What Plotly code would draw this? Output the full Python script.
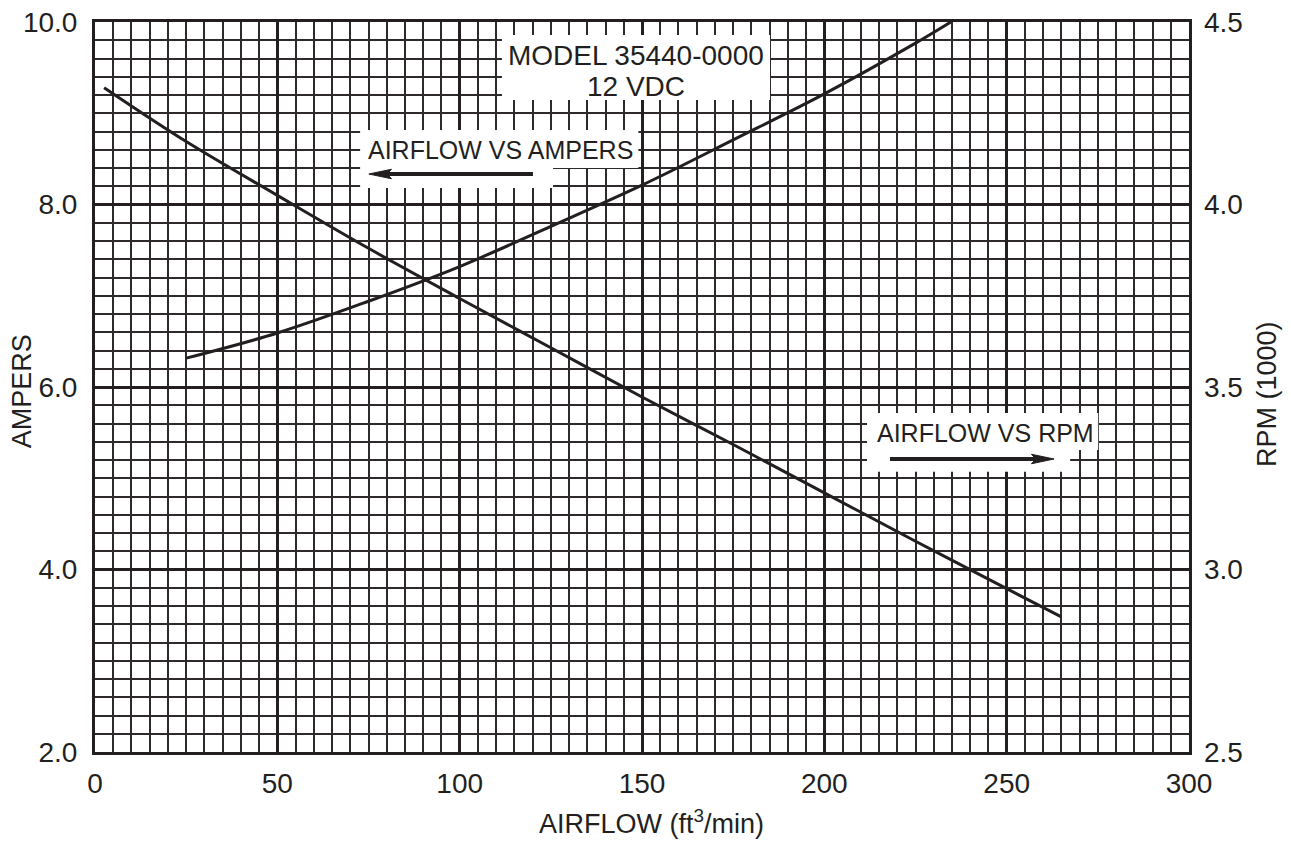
import plotly.graph_objects as go

# ---- data ----
amps_airflow = [2.5, 25, 50, 75, 100, 125, 150, 175, 200, 225, 250, 265]
amps_values = [9.28, 8.69, 8.10, 7.52, 6.97, 6.43, 5.89, 5.37, 4.84, 4.31, 3.79, 3.48]

rpm_airflow = [25, 50, 75, 100, 125, 150, 175, 200, 225, 234.7]
rpm_values = [3.579, 3.648, 3.735, 3.830, 3.940, 4.053, 4.177, 4.303, 4.442, 4.5]

x_ticks = [0, 50, 100, 150, 200, 250, 300]
y_ticks = [2.0, 4.0, 6.0, 8.0, 10.0]
y2_ticks = [2.5, 3.0, 3.5, 4.0, 4.5]

FONT = "Liberation Sans, Arial, Helvetica, sans-serif"
INK = "#231f20"

fig = go.Figure()
fig.add_trace(go.Scatter(x=amps_airflow, y=amps_values, mode="lines",
                         line=dict(color=INK, width=3, shape="spline"),
                         showlegend=False, hoverinfo="skip"))
fig.add_trace(go.Scatter(x=rpm_airflow, y=rpm_values, mode="lines", yaxis="y2",
                         line=dict(color=INK, width=3, shape="spline"),
                         showlegend=False, hoverinfo="skip"))

# white label backgrounds (cover the grid)
boxes = [
    (111.6, 185.1, 9.145, 9.858),
    (72.7, 149.0, 8.40, 8.816),
    (72.7, 125.6, 8.18, 8.40),
    (211.7, 275.1, 5.31, 5.715),
    (211.7, 267.4, 5.07, 5.31),
]
shapes = []
for x0, x1, y0, y1 in boxes:
    shapes.append(dict(type="rect", xref="x", yref="y", x0=x0, x1=x1, y0=y0, y1=y1,
                       fillcolor="white", line=dict(width=0), layer="between"))

# direction arrows: (tail_x, tip_x, y) in data units
arrows = [(120.1, 75.1, 8.334), (218.0, 263.0, 5.211)]
HEAD_L = 6.2    # airflow units (~22 px)
HEAD_W = 0.052  # amps units (~4.7 px)
NOTCH = 1.2
for tail, tip, yy in arrows:
    d = 1 if tip > tail else -1
    base = tip - d * HEAD_L
    shapes.append(dict(type="line", xref="x", yref="y", x0=tail, x1=base + d * NOTCH, y0=yy, y1=yy,
                       line=dict(color=INK, width=4), layer="above"))
    path = (f"M {tip},{yy} L {base},{yy + HEAD_W} L {base + d * NOTCH},{yy} "
            f"L {base},{yy - HEAD_W} Z")
    shapes.append(dict(type="path", xref="x", yref="y", path=path,
                       fillcolor=INK, line=dict(color=INK, width=1), layer="above"))

txt = lambda s: dict(family=FONT, size=s, color=INK)
annotations = [
    dict(x=148.35, y=9.638, xref="x", yref="y", text="MODEL 35440-0000", showarrow=False,
         font=txt(28), xanchor="center", yanchor="middle"),
    dict(x=148.35, y=9.288, xref="x", yref="y", text="12 VDC", showarrow=False,
         font=txt(28), xanchor="center", yanchor="middle"),
    dict(x=74.3, y=8.597, xref="x", yref="y", text="AIRFLOW VS AMPERS", showarrow=False,
         font=txt(25), xanchor="left", yanchor="middle"),
    dict(x=213.9, y=5.496, xref="x", yref="y", text="AIRFLOW VS RPM", showarrow=False,
         font=txt(25), xanchor="left", yanchor="middle"),
    # axis titles
    dict(x=0.509, y=-0.096, xref="paper", yref="paper", text="AIRFLOW (ft<sup>3</sup>/min)",
         showarrow=False, font=txt(27), xanchor="center", yanchor="middle"),
    dict(x=-0.066, y=0.494, xref="paper", yref="paper", text="AMPERS", textangle=-90,
         showarrow=False, font=txt(27), xanchor="center", yanchor="middle"),
    dict(x=1.072, y=0.49, xref="paper", yref="paper", text="RPM (1000)", textangle=-90,
         showarrow=False, font=txt(27), xanchor="center", yanchor="middle"),
]

axis_font = txt(28)

fig.update_layout(
    width=1291, height=846,
    margin=dict(l=95, r=102, t=22, b=94),
    paper_bgcolor="white", plot_bgcolor="white",
    font=dict(family=FONT, color=INK),
    shapes=shapes, annotations=annotations,
    xaxis=dict(range=[0, 300], tickvals=x_ticks, ticktext=[str(v) for v in x_ticks],
               showgrid=True, gridcolor=INK, gridwidth=2.6,
               minor=dict(dtick=5, showgrid=True, gridcolor="#2e2a2b", gridwidth=1.5),
               showline=True, linecolor=INK, linewidth=3, mirror=True,
               zeroline=False, ticks="", tickfont=axis_font, ticklabelstandoff=4,
               ticklabeloverflow="allow", automargin=False),
    yaxis=dict(range=[2, 10], tickvals=y_ticks, ticktext=[f"{v:.1f}" for v in y_ticks],
               showgrid=True, gridcolor=INK, gridwidth=2.6,
               minor=dict(dtick=0.2, showgrid=True, gridcolor="#2e2a2b", gridwidth=1.5),
               showline=True, linecolor=INK, linewidth=3, mirror=True,
               zeroline=False, ticks="", tickfont=axis_font, ticklabelstandoff=9,
               ticklabeloverflow="allow", automargin=False),
    yaxis2=dict(range=[2.5, 4.5], tickvals=y2_ticks, ticktext=[f"{v:.1f}" for v in y2_ticks],
                overlaying="y", side="right", showgrid=False, zeroline=False,
                showline=False, ticks="", tickfont=axis_font, ticklabelstandoff=14,
                ticklabeloverflow="allow", automargin=False),
)

# remove the default 8px page margin so the figure sits at the window's corner
fig.write_html("out.html", config={"displayModeBar": False},
               post_script="document.body.style.margin='0';")
